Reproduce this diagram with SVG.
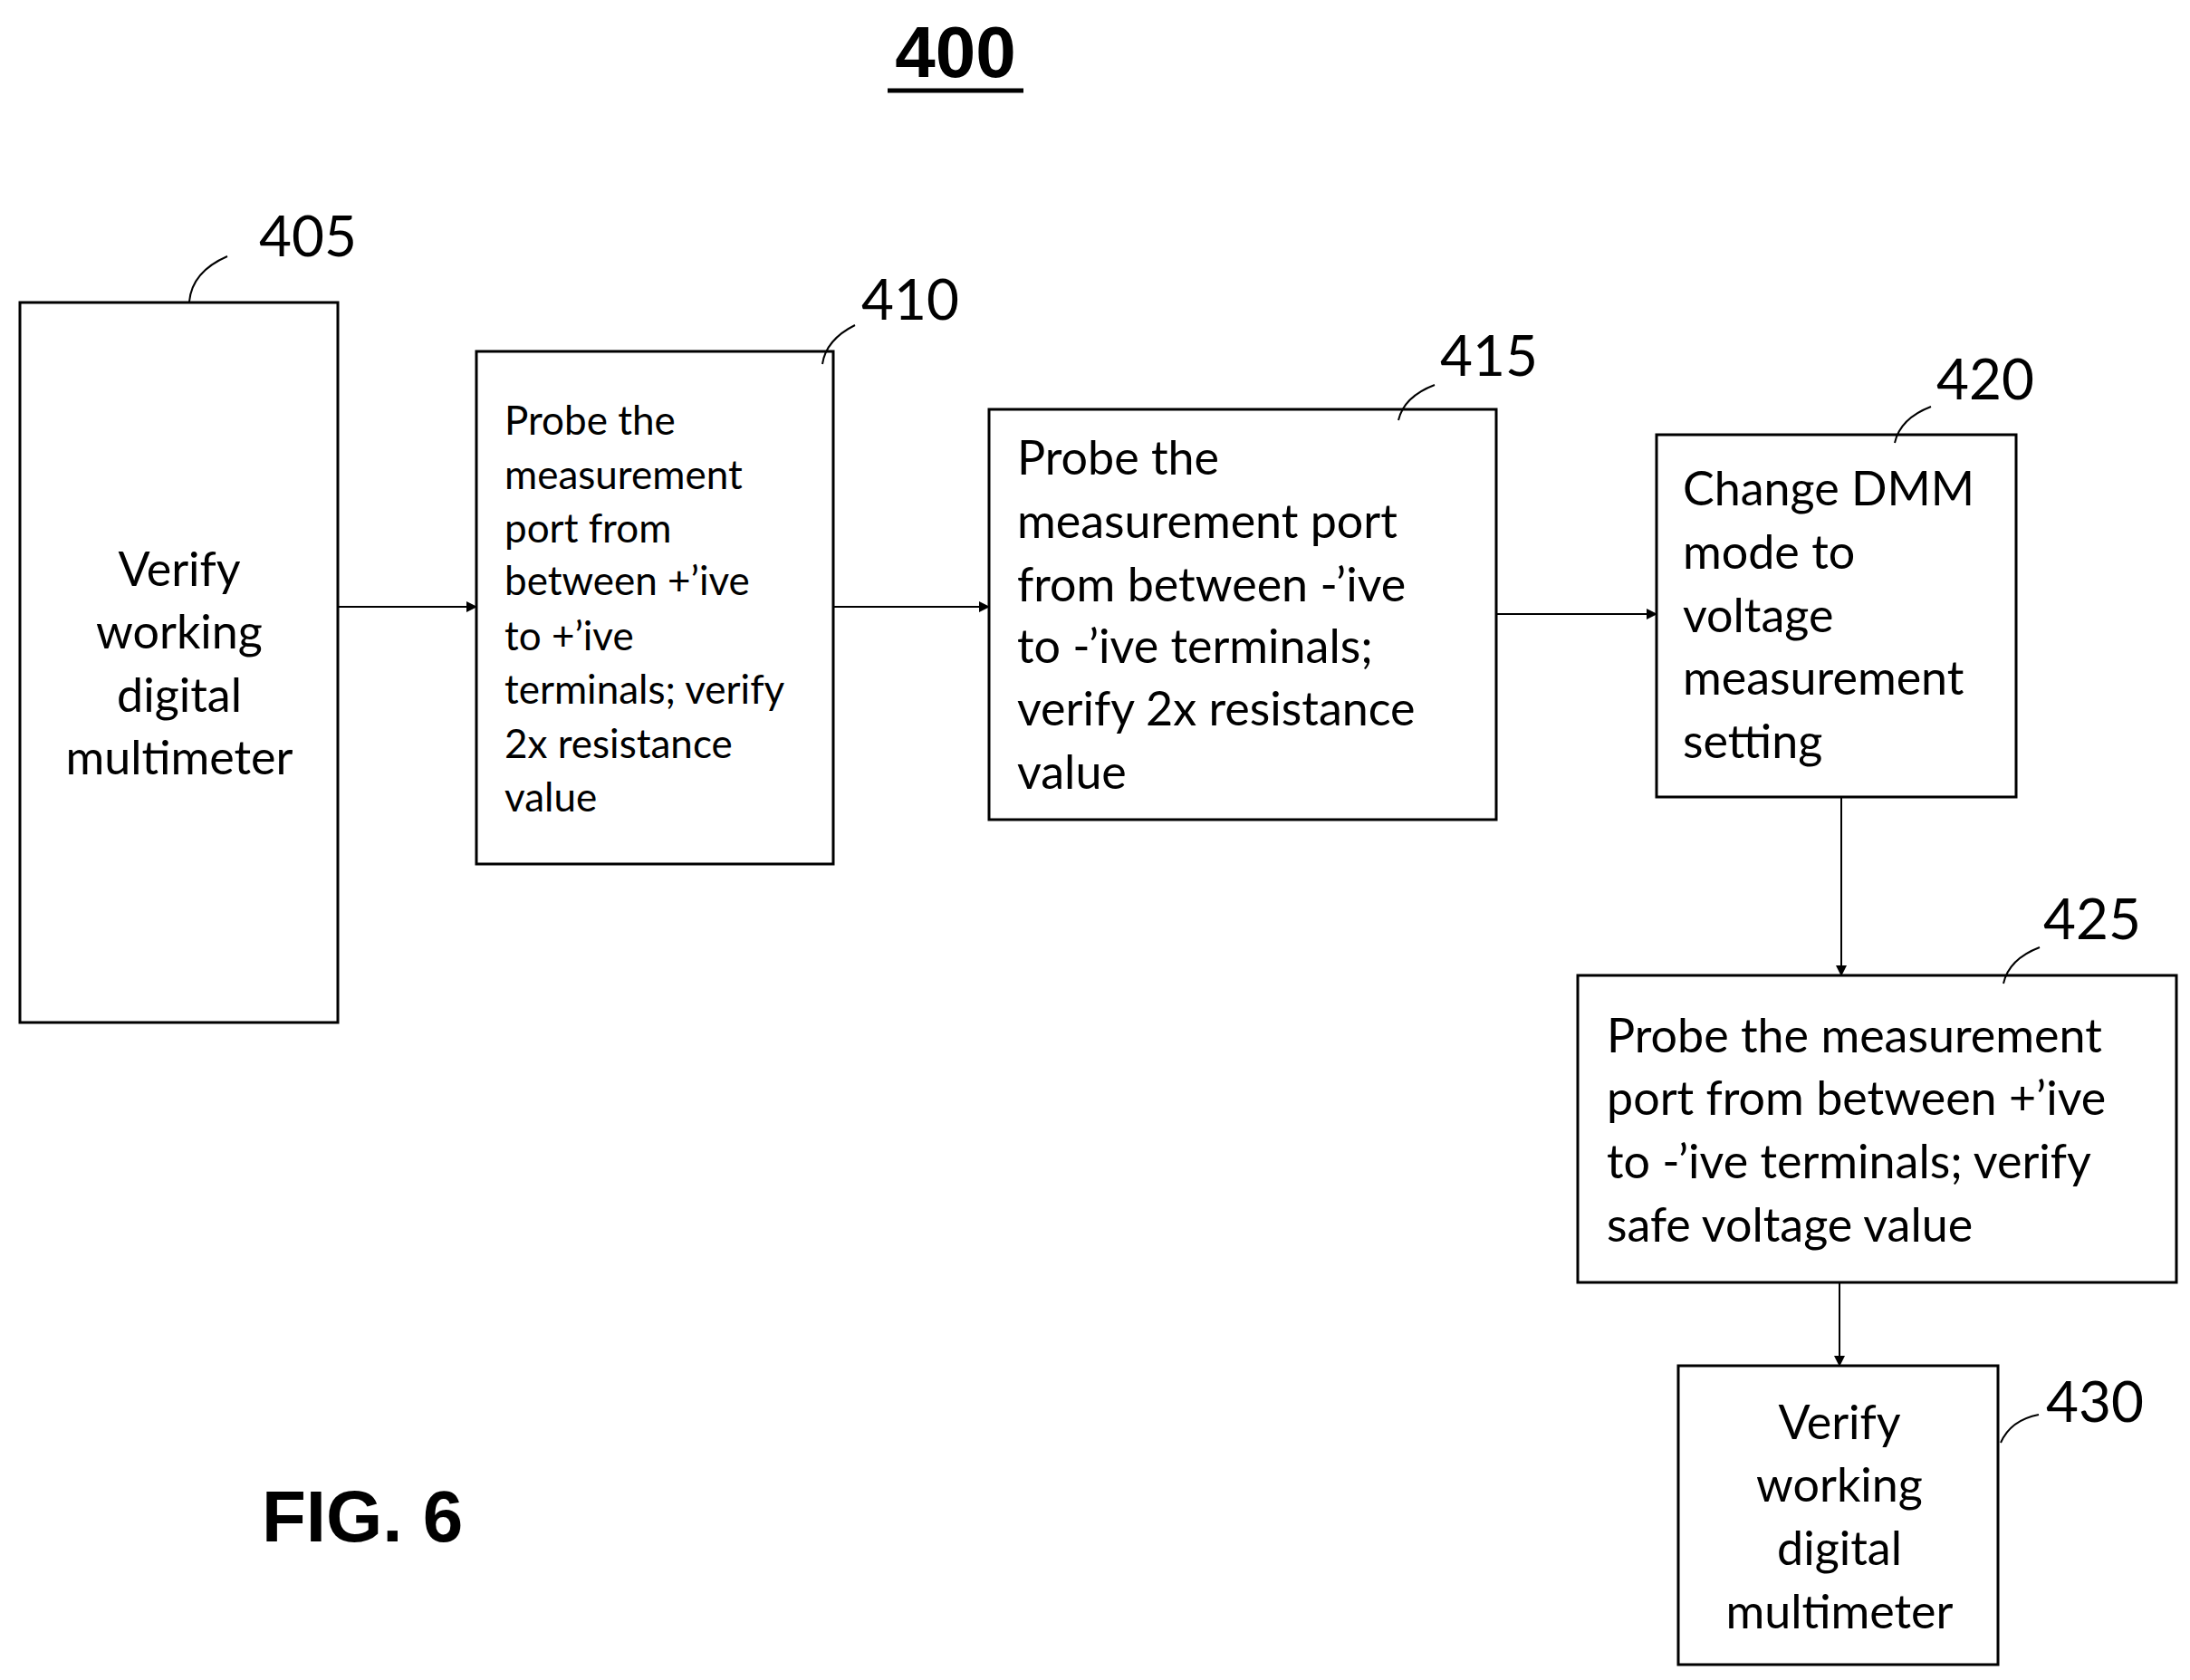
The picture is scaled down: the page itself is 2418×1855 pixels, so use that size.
<svg xmlns="http://www.w3.org/2000/svg" width="2418" height="1855" viewBox="0 0 2418 1855">
<style>
.b{fill:#fff;stroke:#000;stroke-width:3}
.t{font-family:Lato,"Open Sans",sans-serif;font-size:52px;fill:#000}
.s{font-family:Lato,"Open Sans",sans-serif;font-size:44px;fill:#000}
.n{font-family:Lato,"Open Sans",sans-serif;font-size:62px;fill:#000}
.c{text-anchor:middle}
.l{fill:none;stroke:#000;stroke-width:2}
.a{fill:none;stroke:#000;stroke-width:2;marker-end:url(#ar)}
</style>
<defs><marker id="ar" markerWidth="12" markerHeight="12" refX="11" refY="6" orient="auto" markerUnits="userSpaceOnUse"><path d="M0,0 L12,6 L0,12 Z" fill="#000"/></marker></defs>
<rect width="2418" height="1855" fill="#fff"/>
<text x="1055" y="85" font-family="Liberation Sans,Arial,sans-serif" font-weight="bold" font-size="80" text-anchor="middle">400</text>
<line x1="980" y1="100" x2="1130" y2="100" stroke="#000" stroke-width="5"/>
<text x="289" y="1702" font-family="Liberation Sans,Arial,sans-serif" font-weight="bold" font-size="80">FIG. 6</text>
<g id="n405"><rect class="b" x="22" y="334" width="351" height="795"/>
<text class="t c" x="198"><tspan x="198" y="647">Verify</tspan><tspan x="198" y="716">working</tspan><tspan x="198" y="786">digital</tspan><tspan x="198" y="855">multimeter</tspan></text>
<text class="n" x="286" y="283">405</text><path class="l" d="M209,333 Q212,300 251,283"/></g>
<g id="n410"><rect class="b" x="526" y="388" width="394" height="566"/>
<text class="s"><tspan x="557" y="480">Probe the</tspan><tspan x="557" y="540">measurement</tspan><tspan x="557" y="599">port from</tspan><tspan x="557" y="657">between +’ive</tspan><tspan x="557" y="718">to +’ive</tspan><tspan x="557" y="777">terminals; verify</tspan><tspan x="557" y="837">2x resistance</tspan><tspan x="557" y="896">value</tspan></text>
<text class="n" x="951" y="353">410</text><path class="l" d="M908,402 Q912,375 944,359"/></g>
<g id="n415"><rect class="b" x="1092" y="452" width="560" height="453"/>
<text class="t"><tspan x="1123" y="524">Probe the</tspan><tspan x="1123" y="594">measurement port</tspan><tspan x="1123" y="664">from between -’ive</tspan><tspan x="1123" y="732">to -’ive terminals;</tspan><tspan x="1123" y="801">verify 2x resistance</tspan><tspan x="1123" y="871">value</tspan></text>
<text class="n" x="1590" y="415">415</text><path class="l" d="M1544,464 Q1550,438 1584,425"/></g>
<g id="n420"><rect class="b" x="1829" y="480" width="397" height="400"/>
<text class="t"><tspan x="1858" y="558">Change DMM</tspan><tspan x="1858" y="628">mode to</tspan><tspan x="1858" y="698">voltage</tspan><tspan x="1858" y="767">measurement</tspan><tspan x="1858" y="837">setting</tspan></text>
<text class="n" x="2138" y="441">420</text><path class="l" d="M2092,489 Q2098,462 2132,449"/></g>
<g id="n425"><rect class="b" x="1742" y="1077" width="661" height="339"/>
<text class="t"><tspan x="1774" y="1162">Probe the measurement</tspan><tspan x="1774" y="1231">port from between +’ive</tspan><tspan x="1774" y="1301">to -’ive terminals; verify</tspan><tspan x="1774" y="1371">safe voltage value</tspan></text>
<text class="n" x="2256" y="1037">425</text><path class="l" d="M2212,1086 Q2218,1059 2252,1046"/></g>
<g id="n430"><rect class="b" x="1853" y="1508" width="353" height="330"/>
<text class="t c"><tspan x="2031" y="1589">Verify</tspan><tspan x="2031" y="1658">working</tspan><tspan x="2031" y="1728">digital</tspan><tspan x="2031" y="1798">multimeter</tspan></text>
<text class="n" x="2259" y="1570">430</text><path class="l" d="M2209,1593 Q2220,1568 2251,1562"/></g>
<g id="connectors">
<line class="a" x1="373" y1="670" x2="526" y2="670"/>
<line class="a" x1="920" y1="670" x2="1092" y2="670"/>
<line class="a" x1="1652" y1="678" x2="1829" y2="678"/>
<line class="a" x1="2033" y1="880" x2="2033" y2="1077"/>
<line class="a" x1="2031" y1="1416" x2="2031" y2="1508"/>
</g>
</svg>
